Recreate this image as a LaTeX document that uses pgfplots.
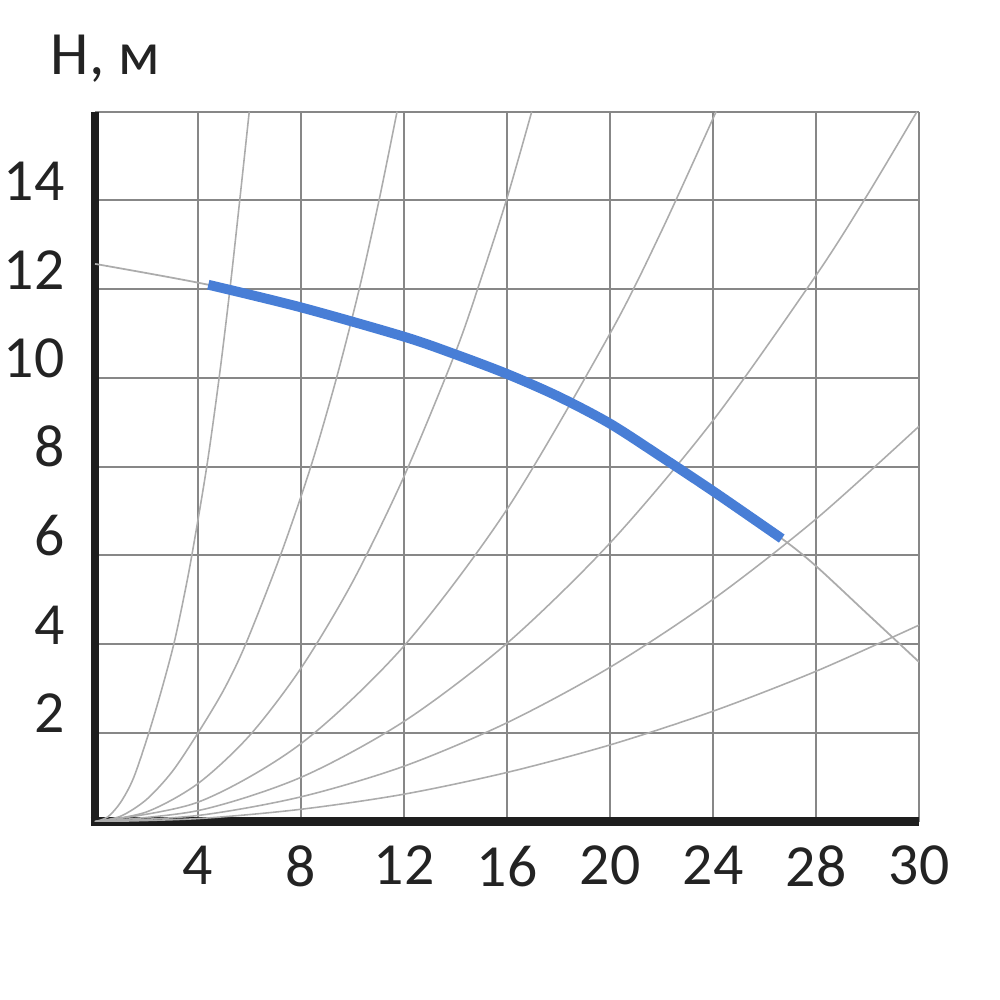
\documentclass[border=0pt]{standalone}
\usepackage{pgfplots}
\pgfplotsset{compat=1.18}
\usepackage{fontspec}
\setmainfont{Carlito}
\definecolor{pumpblue}{RGB}{72,126,214}
\definecolor{gridgrey}{RGB}{135,135,135}
\definecolor{curvegrey}{RGB}{172,172,172}
\definecolor{axisblack}{RGB}{30,30,30}
\definecolor{labelblack}{RGB}{35,35,35}
\begin{document}
\begin{tikzpicture}
\path[use as bounding box] (-0.95cm,-1.783cm) rectangle (9.05cm,8.217cm);
\begin{axis}[
  scale only axis, width=8.24cm, height=7.10cm,
  xmin=0, xmax=32, ymin=0, ymax=16,
  axis x line*=bottom, axis y line*=left,
  axis line style={line width=2.55pt, color=axisblack, -},
  x axis line style={shorten <=-1.27pt},
  xtick={4,8,...,32}, xticklabels={4,8,12,16,20,24,28,30},
  ytick={2,4,...,16}, yticklabels={2,4,6,8,10,12,14,{}},
  major tick length=0pt,
  grid=major, major grid style={line width=0.55pt, color=gridgrey},
  tick label style={font=\fontsize{17}{20}\selectfont, text=labelblack},
  xticklabel style={anchor=north, inner sep=0pt, yshift=-0.233cm},
  yticklabel style={anchor=base east, inner sep=0pt, xshift=-0.3cm},
]
% system curves
\addplot[curvegrey, line width=0.45pt, smooth] coordinates {(0,0) (0.5,0.11) (1,0.44) (1.5,0.99) (2.09,2) (2.6,3) (3.06,4) (3.43,5) (3.76,6) (4.34,8) (4.82,10) (5.24,12) (5.62,14) (5.99,16)};
\addplot[curvegrey, line width=0.45pt, smooth] coordinates {(0,0) (1,0.125) (2,0.5) (3,1.13) (4,2) (5,2.97) (5.85,4) (7.2,6) (8.38,8) (9.38,10) (10.26,12) (11.03,14) (11.73,16)};
\addplot[curvegrey, line width=0.45pt, smooth] coordinates {(0,0) (2,0.22) (4,0.86) (6,1.94) (8,3.46) (10,5.4) (12,7.78) (14,10.58) (15,12.25) (16,14.05) (16.96,16)};
\addplot[curvegrey, line width=0.45pt, smooth] coordinates {(0,0) (4,0.44) (8,1.76) (12,3.96) (16,7.04) (20,11.0) (22,13.31) (24.12,16)};
\addplot[curvegrey, line width=0.45pt, smooth] coordinates {(0,0) (4,0.25) (8,1.0) (12,2.26) (16,4.02) (20,6.28) (24,9.04) (28,12.31) (30,14.13) (31.92,16)};
\addplot[curvegrey, line width=0.45pt, smooth] coordinates {(0,0) (4,0.14) (8,0.56) (12,1.25) (16,2.23) (20,3.48) (24,5.01) (28,6.82) (32,8.91)};
\addplot[curvegrey, line width=0.45pt, smooth] coordinates {(0,0) (4,0.07) (8,0.28) (12,0.62) (16,1.11) (20,1.73) (24,2.49) (28,3.39) (32,4.43)};
% pump curve (thin full)
\addplot[curvegrey, line width=0.5pt, smooth] coordinates {(0,12.57) (4.4,12.1) (8,11.59) (12,10.93) (14,10.53) (16,10.09) (18,9.58) (20,8.97) (22,8.22) (24,7.45) (26.67,6.38) (28,5.76) (30,4.68) (32,3.6)};
% working range
\addplot[pumpblue, line width=2.8pt, smooth] coordinates {(4.4,12.1) (8,11.59) (12,10.93) (14,10.53) (16,10.09) (18,9.58) (20,8.97) (22,8.22) (24,7.45) (26.67,6.38)};
\end{axis}
\node[anchor=base west, inner sep=0pt, text=labelblack, font=\fontsize{17.5}{21}\selectfont] at (-0.45cm,7.467cm) {H, м};
\end{tikzpicture}
\end{document}
